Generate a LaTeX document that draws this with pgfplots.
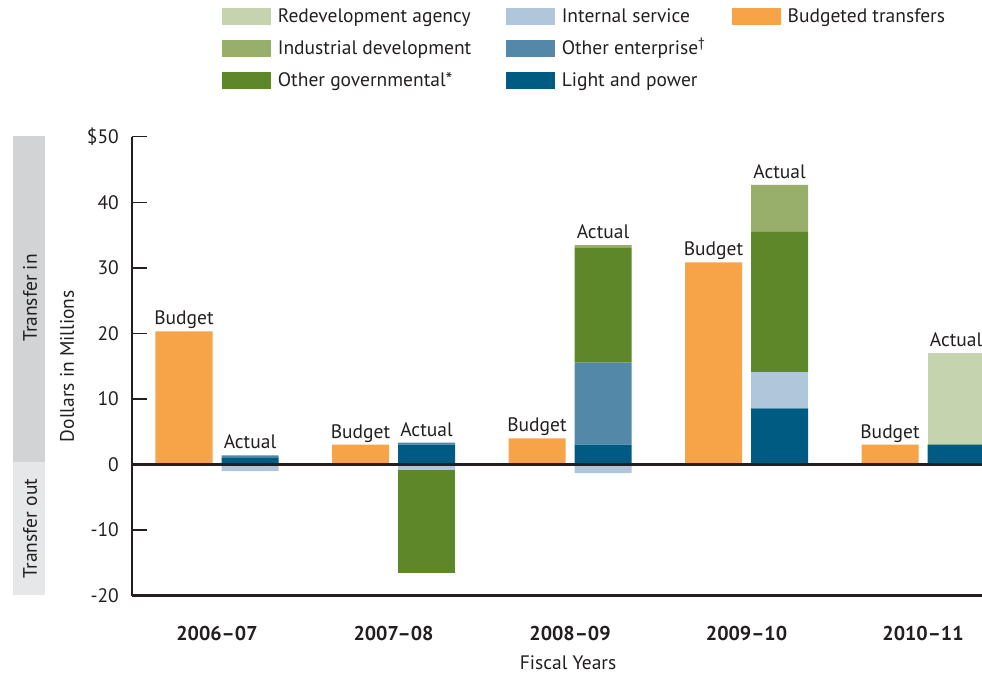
\documentclass[border=0pt]{standalone}
\usepackage{fontspec}
\setmainfont{PT Sans}
\usepackage{pgfplots}
\usepackage{pgfplotstable}
\pgfplotsset{compat=1.18}

\definecolor{cRA}{HTML}{C5D3AE}
\definecolor{cID}{HTML}{98AF6C}
\definecolor{cOG}{HTML}{5E8729}
\definecolor{cIS}{HTML}{B0C6DA}
\definecolor{cOE}{HTML}{5488A9}
\definecolor{cLP}{HTML}{005B82}
\definecolor{cBT}{HTML}{F7A348}
\definecolor{cAx}{HTML}{231F20}
\definecolor{bandIn}{HTML}{D1D3D4}
\definecolor{bandOut}{HTML}{E6E7E8}

\newcommand{\txt}{\fontsize{19.5bp}{23bp}\selectfont}
\newcommand{\sw}[1]{\addlegendimage{legend image code/.code={\fill[#1] (0bp,-8bp) rectangle (48bp,8bp); \path (55.5bp,0bp);}}}

% positive stack: budget bars at i-0.187, actual bars at i+0.187
\pgfplotstableread{
x      bt     lp    oe    is   og    id   ra
-0.187 20.3   0     0     0    0     0    0
0.187  0      1.1   0.3   0    0     0    0
0.813  3.05   0     0     0    0     0    0
1.187  0      3.05  0.3   0    0     0    0
1.813  4.0    0     0     0    0     0    0
2.187  0      3.05  12.5  0    17.5  0.4  0
2.813  30.85  0     0     0    0     0    0
3.187  0      8.55  0     5.5  21.5  7.1  0
3.813  3.05   0     0     0    0     0    0
4.187  0      3.05  0     0    0     0    13.9
}\posdata

% negative stack (transfers out)
\pgfplotstableread{
x      is     og
0.187  -1.0   0
1.187  -0.8   -15.8
2.187  -1.3   0
3.187  0      0
4.187  0      0
}\negdata

\pgfplotsset{geom/.style={scale only axis, width=850bp, height=459bp,
  xmin=-0.4816, xmax=4.334, ymin=-20, ymax=50, enlargelimits=false,
  at={(132bp,81.3bp)}, anchor=south west},
  common/.style={geom, ybar stacked, bar width=0.323}}

\begin{document}
\begin{tikzpicture}
\useasboundingbox (0,0) rectangle (982bp,677bp);
\fill[bandIn] (13bp,215bp) rectangle (45bp,541bp);
\fill[bandOut] (13bp,82bp) rectangle (45bp,215bp);
\node[rotate=90, font=\txt, text=cAx] at (30bp,379bp) {Transfer in};
\node[rotate=90, font=\txt, text=cAx] at (30bp,148.5bp) {Transfer out};

\begin{axis}[common,
  axis lines=left, axis line style={-, line width=2.5bp, cAx},
  ytick={-20,-10,0,10,20,30,40,50},
  yticklabels={-20,-10,0,10,20,30,40,\$50},
  xtick={0,1,2,3,4},
  xticklabels={2006--07,2007--08,2008--09,2009--10,2010--11},
  tick align=inside, major tick length=15bp,
  ytick style={cAx, line width=1.5bp},
  xtick style={draw=none},
  yticklabel style={font=\txt, text=cAx, inner sep=0pt, anchor=east, xshift=-13bp},
  xticklabel style={font=\fontsize{20bp}{23bp}\selectfont\bfseries, text=cAx, inner sep=0pt, anchor=base, yshift=-44.3bp},
  ylabel={Dollars in Millions},
  ylabel style={at={(axis description cs:-0.0765,0.5)}, anchor=center, font=\txt, text=cAx},
  xlabel={Fiscal Years},
  xlabel style={at={(axis description cs:0.513,-0.1466)}, anchor=center, font=\txt, text=cAx},
]
\addplot[fill=cBT, draw=none] table[x=x,y=bt] {\posdata};
\addplot[fill=cLP, draw=none] table[x=x,y=lp] {\posdata};
\addplot[fill=cOE, draw=none] table[x=x,y=oe] {\posdata};
\addplot[fill=cIS, draw=none] table[x=x,y=is] {\posdata};
\addplot[fill=cOG, draw=none] table[x=x,y=og] {\posdata};
\addplot[fill=cID, draw=none] table[x=x,y=id] {\posdata};
\addplot[fill=cRA, draw=none] table[x=x,y=ra] {\posdata};
\end{axis}

\begin{axis}[common, hide axis]
\addplot[fill=cIS, draw=none] table[x=x,y=is] {\negdata};
\addplot[fill=cOG, draw=none] table[x=x,y=og] {\negdata};
\end{axis}

\begin{axis}[geom, hide axis,
  legend columns=3,
  legend cell align=left,
  legend style={at={(axis description cs:0.10588,1.2974)}, anchor=north west,
    draw=none, fill=none, inner sep=0pt, outer sep=0pt, row sep=0pt, column sep=0pt,
    font=\txt, text=cAx,
    nodes={inner sep=0pt, outer sep=0pt, text height=22.8bp, text depth=9.2bp}},
]
\draw[cAx, line width=2.5bp] (axis cs:-0.4816,0) -- (axis cs:4.334,0);
\node[anchor=base, yshift=6.5bp, font=\txt, text=cAx] at (axis cs:-0.187,20.3) {Budget};
\node[anchor=base, yshift=6.5bp, font=\txt, text=cAx] at (axis cs:0.187,1.4) {Actual};
\node[anchor=base, yshift=6.5bp, font=\txt, text=cAx] at (axis cs:0.813,3.05) {Budget};
\node[anchor=base, yshift=6.5bp, font=\txt, text=cAx] at (axis cs:1.187,3.35) {Actual};
\node[anchor=base, yshift=6.5bp, font=\txt, text=cAx] at (axis cs:1.813,4.0) {Budget};
\node[anchor=base, yshift=6.5bp, font=\txt, text=cAx] at (axis cs:2.187,33.45) {Actual};
\node[anchor=base, yshift=6.5bp, font=\txt, text=cAx] at (axis cs:2.813,30.85) {Budget};
\node[anchor=base, yshift=6.5bp, font=\txt, text=cAx] at (axis cs:3.187,42.65) {Actual};
\node[anchor=base, yshift=6.5bp, font=\txt, text=cAx] at (axis cs:3.813,3.05) {Budget};
\node[anchor=base, yshift=6.5bp, font=\txt, text=cAx] at (axis cs:4.187,17.0) {Actual};
\sw{cRA}\addlegendentry{\makebox[228bp][l]{Redevelopment agency}}
\sw{cIS}\addlegendentry{\makebox[170bp][l]{Internal service}}
\sw{cBT}\addlegendentry{Budgeted transfers}
\sw{cID}\addlegendentry{\makebox[228bp][l]{Industrial development}}
\sw{cOE}\addlegendentry{\makebox[170bp][l]{Other enterprise\textsuperscript{†}}}
\addlegendimage{empty legend}\addlegendentry{}
\sw{cOG}\addlegendentry{\makebox[228bp][l]{Other governmental*}}
\sw{cLP}\addlegendentry{\makebox[170bp][l]{Light and power}}
\addlegendimage{empty legend}\addlegendentry{}
\end{axis}
\end{tikzpicture}
\end{document}
